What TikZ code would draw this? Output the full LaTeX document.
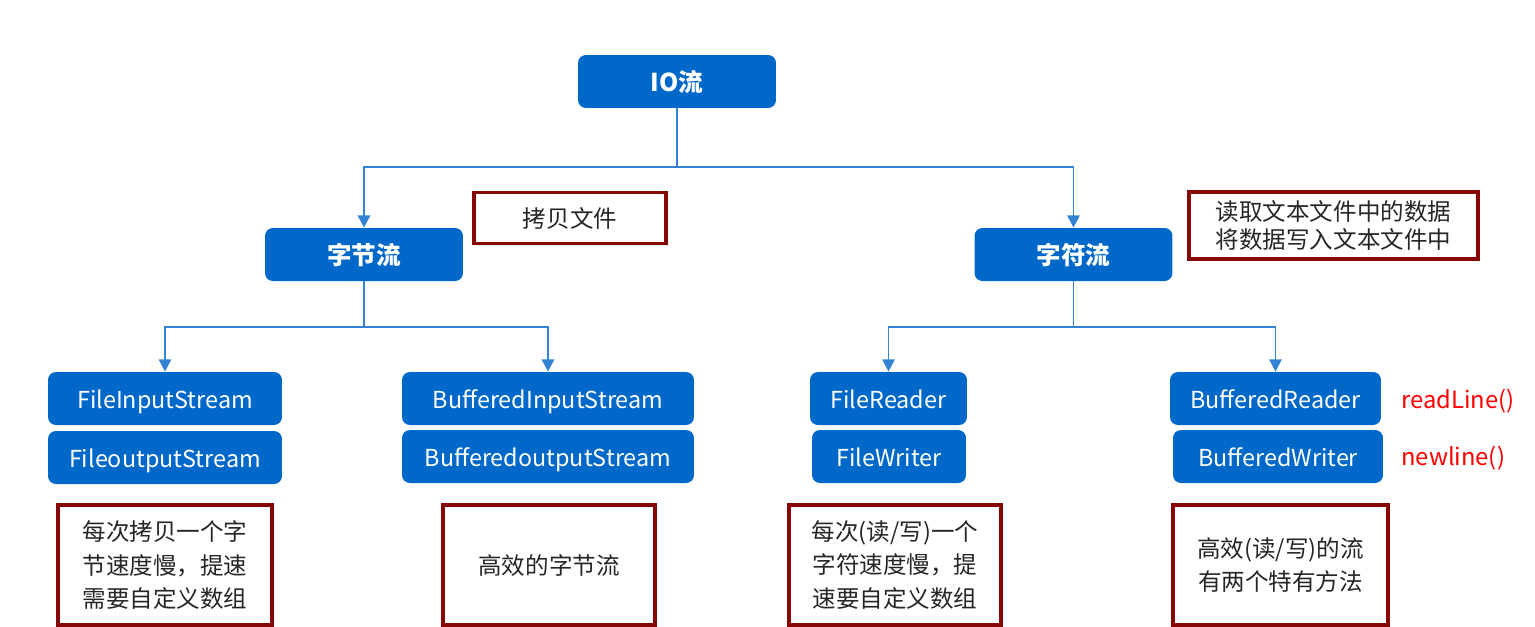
\documentclass[tikz,border=0pt]{standalone}
\usepackage{fontspec}
\setmainfont{Noto Sans CJK SC}
\usetikzlibrary{arrows.meta,shadows}
\definecolor{boxblue}{RGB}{0,104,200}
\definecolor{lineblue}{RGB}{52,130,212}
\definecolor{notered}{RGB}{135,6,6}
\tikzset{
	blue box/.style={draw=none, fill=boxblue, rounded corners=4.5pt, text=white, font=\fontsize{13.3}{16}\selectfont, minimum height=1.06cm, inner sep=0pt, text height=12.5pt, text depth=1pt},
	head box/.style={blue box, font=\fontsize{14}{16}\selectfont\bfseries, minimum width=3.96cm, text height=12.4pt, text depth=1pt},
	note box/.style={draw=notered, line width=1.8pt, fill=white, text=black!85, font=\fontsize{13.4}{19}\selectfont, align=center, inner sep=0pt, drop shadow={opacity=0.2, shadow xshift=1.2pt, shadow yshift=-1.2pt}},
	conn/.style={draw=lineblue, line width=1.1pt, -{Triangle[width=7pt,length=7pt]}},
	method/.style={text=red, font=\fontsize{13.5}{16}\selectfont, anchor=west, inner sep=0pt}
}
\begin{document}
\begin{tikzpicture}[x=0.02cm, y=-0.02cm]
		%%%%% START %%%%%
		\useasboundingbox (0, 0) rectangle (1535, 626);
		
		\node[head box] (io) at (677, 81.5) {IO流};
		\node[head box] (byte) at (364, 254.5) {字节流};
		\node[head box] (char) at (1073.5, 254.5) {字符流};
		
		\node[note box, minimum width=3.84cm, minimum height=1.02cm] (copy) at (570, 218) {拷贝文件};
		\node[note box, minimum width=5.78cm, minimum height=1.34cm, font=\fontsize{13.4}{16}\selectfont] (rw) at (1333.5, 225.5) {读取文本文件中的数据\\将数据写入文本文件中};
		
		\coordinate (j0) at (677, 167);
		\draw[conn, -] (io.south) -- (j0);
		\draw[conn] (j0) -| (byte.north);
		\draw[conn] (j0) -| (char.north);
		
		%%%%% BYTE STREAMS %%%%%
		\node[blue box, minimum width=4.68cm] (fis) at (165, 398.5) {FileInputStream};
		\node[blue box, minimum width=4.68cm] (fos) at (165, 457.5) {FileoutputStream};
		\node[blue box, minimum width=5.84cm] (bis) at (548, 398.5) {BufferedInputStream};
		\node[blue box, minimum width=5.84cm] (bos) at (548, 456.5) {BufferedoutputStream};
		
		\coordinate (j1) at (364, 327);
		\draw[conn, -] (byte.south) -- (j1);
		\draw[conn] (j1) -| (fis.north);
		\draw[conn] (j1) -| (bis.north);
		
		%%%%% CHAR STREAMS %%%%%
		\node[blue box, minimum width=3.14cm] (fr) at (888.5, 398.5) {FileReader};
		\node[blue box, minimum width=3.08cm] (fw) at (889, 456.5) {FileWriter};
		\node[blue box, minimum width=4.22cm] (br) at (1275.5, 398.5) {BufferedReader};
		\node[blue box, minimum width=4.2cm] (bw) at (1278, 456.5) {BufferedWriter};
		
		\coordinate (j2) at (1073.5, 327);
		\draw[conn, -] (char.south) -- (j2);
		\draw[conn] (j2) -| (fr.north);
		\draw[conn] (j2) -| (br.north);
		
		\node[method] (rl) at (1401, 401) {readLine()};
		\node[method] (nl) at (1401, 458) {newline()};
		
		%%%%% NOTES %%%%%
		\node[note box, minimum width=4.28cm, minimum height=2.4cm] (n1) at (165, 565) {每次拷贝一个字\\节速度慢，提速\\需要自定义数组};
		\node[note box, minimum width=4.24cm, minimum height=2.4cm] (n2) at (549, 565) {高效的字节流};
		\node[note box, minimum width=4.24cm, minimum height=2.4cm] (n3) at (895, 565) {每次(读/写)一个\\字符速度慢，提\\速要自定义数组};
		\node[note box, minimum width=4.3cm, minimum height=2.4cm] (n4) at (1280.5, 565) {高效(读/写)的流\\有两个特有方法};
		
		%%%%% END %%%%%
	\end{tikzpicture}
\end{document}
